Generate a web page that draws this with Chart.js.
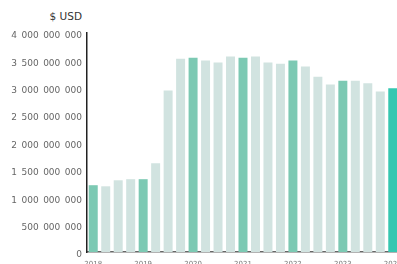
<!DOCTYPE html>
<html>
<head>
<meta charset="utf-8">
<script src="https://cdn.jsdelivr.net/npm/chart.js@4.4.1/dist/chart.umd.min.js"></script>
<style>
  html, body { margin: 0; padding: 0; background: #fff; overflow: hidden; }
  #wrap { position: relative; width: 397px; height: 264px; overflow: hidden; }
  #unit {
    position: absolute; right: calc(397px - 82px); top: 10px;
    font: 10.5px 'DejaVu Sans', sans-serif; color: #333; white-space: nowrap;
  }
  canvas { position: absolute; left: 0; top: 0; }
</style>
</head>
<body>
<div id="wrap">
  <div id="unit">$ USD</div>
  <canvas id="chart" width="410" height="272"></canvas>
</div>
<script>
// quarterly values, 2018 Q1 .. 2024 Q1
const quarters = [
  '2018 Q1', '2018 Q2', '2018 Q3', '2018 Q4',
  '2019 Q1', '2019 Q2', '2019 Q3', '2019 Q4',
  '2020 Q1', '2020 Q2', '2020 Q3', '2020 Q4',
  '2021 Q1', '2021 Q2', '2021 Q3', '2021 Q4',
  '2022 Q1', '2022 Q2', '2022 Q3', '2022 Q4',
  '2023 Q1', '2023 Q2', '2023 Q3', '2023 Q4',
  '2024 Q1'
]
const yearLabels = [
  '2018', '', '', '',
  '2019', '', '', '',
  '2020', '', '', '',
  '2021', '', '', '',
  '2022', '', '', '',
  '2023', '', '', '',
  '2024'
]
const values = [
  1.22e9, 1.20e9, 1.31e9, 1.33e9,
  1.33e9, 1.62e9, 2.95e9, 3.53e9,
  3.55e9, 3.50e9, 3.46e9, 3.57e9,
  3.55e9, 3.57e9, 3.46e9, 3.44e9,
  3.50e9, 3.39e9, 3.20e9, 3.06e9,
  3.13e9, 3.13e9, 3.08e9, 2.93e9,
  2.99e9
]
const yTicks = [ 0, 5e8, 1e9, 1.5e9, 2e9, 2.5e9, 3e9, 3.5e9, 4e9 ]

const light = '#d1e3e0'
const green = '#7cc9b3'
const teal = '#35c7b1'

const colors = quarters.map( ( q, i ) => {
  if ( i === quarters.length - 1 ) return teal
  return q.endsWith( 'Q1' ) ? green : light
} )

const fmt = v => String( v ).replace( /\B(?=(\d{3})+(?!\d))/g, '\u2002' )

new Chart( document.getElementById( 'chart' ), {
  type: 'bar',
  data: {
    labels: quarters,
    datasets: [
      {
        data: values,
        backgroundColor: colors,
        borderWidth: 0,
        categoryPercentage: 1,
        barPercentage: 0.72
      }
    ]
  },
  options: {
    responsive: false,
    animation: false,
    devicePixelRatio: 1,
    layout: { padding: { top: 33, right: 11, left: 0, bottom: 0 } },
    plugins: { legend: { display: false }, tooltip: { enabled: false } },
    scales: {
      x: {
        offset: true,
        grid: { display: false, drawTicks: false },
        border: { display: true, color: '#666', width: 1.5 },
        ticks: {
          autoSkip: false,
          maxRotation: 0,
          padding: 8,
          color: '#777',
          font: { family: 'DejaVu Sans', size: 7 },
          callback: ( v, i ) => yearLabels[ i ]
        },
        afterFit: s => { s.height = 20 }
      },
      y: {
        min: 0,
        max: 4e9,
        grid: { display: false, drawTicks: false },
        border: { display: true, color: '#222', width: 1.5 },
        afterBuildTicks: s => { s.ticks = yTicks.map( v => ( { value: v } ) ) },
        ticks: {
          padding: 5,
          labelOffset: 3,
          color: '#666',
          font: { family: 'DejaVu Sans', size: 9 },
          callback: v => fmt( v )
        },
        afterFit: s => { s.width = 87 }
      }
    }
  }
} )
</script>
</body>
</html>
